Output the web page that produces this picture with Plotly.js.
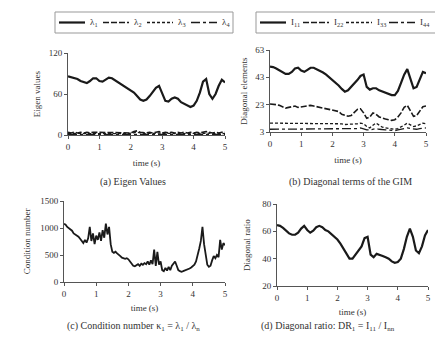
<!DOCTYPE html>
<html><head><meta charset="utf-8">
<script src="https://cdn.plot.ly/plotly-3.0.1.min.js"></script>
<style>html,body{margin:0;padding:0;background:#fff}#chart{width:435px;height:350px}</style>
</head><body><div id="chart"></div>
<script>
// ---------- data ----------
const time = [0,0.1,0.2,0.3,0.4,0.5,0.6,0.7,0.8,0.9,1.0,1.1,1.2,1.3,1.4,1.5,1.6,1.7,1.8,1.9,2.0,2.1,2.2,2.3,2.4,2.5,2.6,2.7,2.8,2.9,3.0,3.1,3.2,3.3,3.4,3.5,3.6,3.7,3.8,3.9,4.0,4.1,4.2,4.3,4.4,4.5,4.6,4.7,4.8,4.9,5.0];
const lambda1 = [86,85,84,82,79,77,76,79,83,83,79,78,81,84,83,80,77,75,72,69,66,62,57,52,50,52,57,63,69,72,62,50,49,53,55,53,48,46,43,41,43,50,62,78,82,60,53,60,72,81,77];
const lambda2 = [4,3,4,3,4,3,4,3,4,4,3,4,3,4,3,4,3,4,3,4,3,5,6,4,3,3,4,3,4,5,3,4,3,4,3,4,3,4,3,4,3,4,3,4,5,4,3,4,3,4,4];
const lambda3 = [2,2.5,2,2.5,2,2.5,2,2,2.5,2,2,2.5,2,2,2.5,2,2,2.5,2,2,2.5,3,4,3,2,2,2.5,2,2.5,3,2,2,2.5,2,2,2.5,2,2,2,2.5,2,2,2.5,2,3,2.5,2,2,2.5,2,2];
const lambda4 = [1,1,1.5,1,1,1.5,1,1,1.5,1,1,1,1.5,1,1,1.5,1,1,1,1.5,1,1.5,2,1.5,1,1,1.5,1,1,1.5,1,1,1.5,1,1,1,1.5,1,1,1.5,1,1,1.5,1,1.5,1,1,1.5,1,1,1];

const l11 = [50.8,50.5,49.5,48,46.5,45.5,45.5,47,49.5,50,48,47,48.5,50,50,49,47.5,46.5,45,43,41,39.5,37,34.5,32.5,33.5,36,38,41,44,45,36,34,35,35,33.5,32.5,32,31,30,30,33,39,45,49,42,35,36,41,47,46];
const l22 = [23.5,23.5,23,22.5,21.5,20.5,21,21.5,22,21,21.5,22,22.5,22.5,22,21.5,21,20.5,20,20,19.5,19,18,16,15,14.5,15,17,19.5,20,17,13,14,17,16,14,13,12.5,12,11.5,12,14,17,21,22.5,18,14.5,15,18,21.5,22];
const l33 = [9.5,9.5,9.5,9.5,9.5,9.5,9.5,9.5,9.5,9.5,9.5,9.5,9.5,9.5,9.5,9.5,9.5,9.5,9.5,9.5,9.5,9.5,9,9,8.5,8.5,9,9,9,9.5,9,7,6,8,9.5,8,6.5,6,5.5,5,5,5.5,6.5,8,9.5,8,7,7.5,8.5,9.5,9];
const l44 = [5,5,5,5,5,5,5,5,5,5,5,5,5,5,5,5,5,5,5,5,5,5,5,5,5,5,5,5,5.5,6,5,4.5,4.5,5,5.5,5,4.5,4.5,4.5,4,4,4.5,5,5.5,6,5.5,5,5,5.5,6,6];

const timeFine = [0,0.05,0.1,0.15,0.2,0.25,0.3,0.35,0.4,0.45,0.5,0.55,0.6,0.65,0.7,0.75,0.8,0.85,0.9,0.95,1.0,1.05,1.1,1.15,1.2,1.25,1.3,1.35,1.4,1.45,1.5,1.55,1.6,1.65,1.7,1.75,1.8,1.85,1.9,1.95,2.0,2.05,2.1,2.15,2.2,2.25,2.3,2.35,2.4,2.45,2.5,2.55,2.6,2.65,2.7,2.75,2.8,2.85,2.9,2.95,3.0,3.05,3.1,3.15,3.2,3.25,3.3,3.35,3.4,3.45,3.5,3.55,3.6,3.65,3.7,3.75,3.8,3.85,3.9,3.95,4.0,4.05,4.1,4.15,4.2,4.25,4.3,4.35,4.4,4.45,4.5,4.55,4.6,4.65,4.7,4.75,4.8,4.85,4.9,4.95,5.0];
const condNumber = [1080,1060,1020,1000,980,950,900,880,860,840,800,760,720,780,730,810,1020,760,900,700,860,780,920,760,960,820,1080,880,1020,700,560,540,560,530,510,480,450,440,430,440,420,380,330,300,290,310,330,300,340,320,350,330,380,320,400,330,600,300,560,320,380,220,200,260,210,280,220,300,350,380,300,220,200,190,200,210,220,240,250,270,290,320,380,480,620,760,1020,700,480,320,280,300,400,480,440,500,460,780,600,720,680];

const diagRatio = [64.5,64,62.5,60.5,58.5,57.5,57.5,59,62,64,61,59,60.5,63,64,63,61,60,58,56,54,51,47,43,40,40,43,46,49,55,56,43,41,43.5,43,42,41,40,38,37,37.5,40,47,56,62,56,46,44,49,57,61];

const xTicks = [0,1,2,3,4,5];
const eigTicks = [0,60,120];
const diagTicks = [3,23,43,63];
const condTicks = [0,500,1000,1500];
const ratioTicks = [20,40,60,80];

const eigNames = ['λ<sub>1</sub>','λ<sub>2</sub>','λ<sub>3</sub>','λ<sub>4</sub>'];
const diagNames = ['I<sub>11</sub>','I<sub>22</sub>','I<sub>33</sub>','I<sub>44</sub>'];

// ---------- styling ----------
const W = 435, H = 350;
const FONT = 'Liberation Serif, Times New Roman, serif';
const INK = '#1a1a1a';
const TXT = '#333';
const styles = [
  {dash:'solid', width:2.2},
  {dash:'6px,2px', width:1.6},
  {dash:'3px,2px', width:1.3},
  {dash:'dashdot', width:1.3}
];
const px = x => x / W;
const py = y => 1 - y / H;

function line(x, y, xa, ya, st, name) {
  return {x, y, xaxis:xa, yaxis:ya, type:'scatter', mode:'lines', name,
          showlegend:false, line:{color:INK, width:st.width, dash:st.dash}};
}

const traces = [];
[lambda1, lambda2, lambda3, lambda4].forEach((s,i) => traces.push(line(time, s, 'x', 'y', styles[i], eigNames[i])));
[l11, l22, l33, l44].forEach((s,i) => traces.push(line(time, s, 'x2', 'y2', styles[i], diagNames[i])));
traces.push(line(timeFine, condNumber, 'x3', 'y3', {dash:'solid', width:1.8}, 'κ'));
traces.push(line(time, diagRatio, 'x4', 'y4', {dash:'solid', width:2.2}, 'DR'));

function xax(d, anchor, standoff) {
  return {domain:[px(d[0]), px(d[1])], range:[0,5], anchor, tickvals:xTicks,
    showline:true, linecolor:'#555', linewidth:1, ticks:'outside', ticklen:3, tickcolor:'#555',
    showgrid:false, zeroline:false, tickfont:{family:FONT, size:9, color:TXT},
    title:{text:'time (s)', font:{family:FONT, size:9, color:TXT}, standoff}};
}
function yax(d, range, tv, anchor, title, standoff) {
  return {domain:[py(d[1]), py(d[0])], range, anchor, tickvals:tv,
    showline:true, linecolor:'#555', linewidth:1, ticks:'outside', ticklen:3, tickcolor:'#555',
    showgrid:false, zeroline:false, tickfont:{family:FONT, size:9, color:TXT},
    title:{text:title, font:{family:FONT, size:9, color:TXT}, standoff}};
}

const shapes = [], annotations = [];
function legendBox(names, x0, x1, y0, y1, startX, spacing) {
  shapes.push({type:'rect', xref:'paper', yref:'paper', x0:px(x0), x1:px(x1), y0:py(y1), y1:py(y0),
               line:{color:'#999', width:1}});
  const yc = (y0 + y1) / 2;
  names.forEach((n,i) => {
    const x = startX + i * spacing;
    shapes.push({type:'line', xref:'paper', yref:'paper', x0:px(x), x1:px(x+26), y0:py(yc), y1:py(yc),
                 line:{color:INK, width:styles[i].width, dash:styles[i].dash}});
    annotations.push({text:n, xref:'paper', yref:'paper', x:px(x+29), y:py(yc), xanchor:'left', yanchor:'middle',
                      showarrow:false, font:{family:FONT, size:9, color:TXT}});
  });
}
legendBox(eigNames, 55, 233, 12, 33, 59, 44);
legendBox(diagNames, 256, 450, 12, 33, 260, 43);

function caption(text, xc, yc) {
  annotations.push({text, xref:'paper', yref:'paper', x:px(xc), y:py(yc), xanchor:'center', yanchor:'middle',
                    showarrow:false, font:{family:FONT, size:10, color:TXT}});
}
caption('(a) Eigen Values', 133, 182);
caption('(b) Diagonal terms of the GIM', 350, 182);
caption('(c) Condition number κ<sub>1</sub> = λ<sub>1</sub> / λ<sub>n</sub>', 133, 326);
caption('(d) Diagonal ratio: DR<sub>1</sub> = I<sub>11</sub> / I<sub>nn</sub>', 328, 326);

const layout = {
  width:W, height:H, margin:{l:0,r:0,t:0,b:0}, paper_bgcolor:'#fff', plot_bgcolor:'#fff',
  showlegend:false, font:{family:FONT, size:9, color:TXT},
  xaxis: xax([68,225], 'y', 8),
  yaxis: yax([53,135], [0,120], eigTicks, 'x', 'Eigen values', 6),
  xaxis2: xax([270,426], 'y2', 8),
  yaxis2: yax([50,132], [3,63], diagTicks, 'x2', 'Diagonal elements', 6),
  xaxis3: xax([64,225], 'y3', 6),
  yaxis3: yax([201,282], [0,1500], condTicks, 'x3', 'Condition number', 8),
  xaxis4: xax([277,428], 'y4', 6),
  yaxis4: yax([204,286], [20,80], ratioTicks, 'x4', 'Diagonal ratio', 10),
  shapes, annotations
};
Plotly.newPlot('chart', traces, layout, {displayModeBar:false, staticPlot:true});
</script>
</body></html>
